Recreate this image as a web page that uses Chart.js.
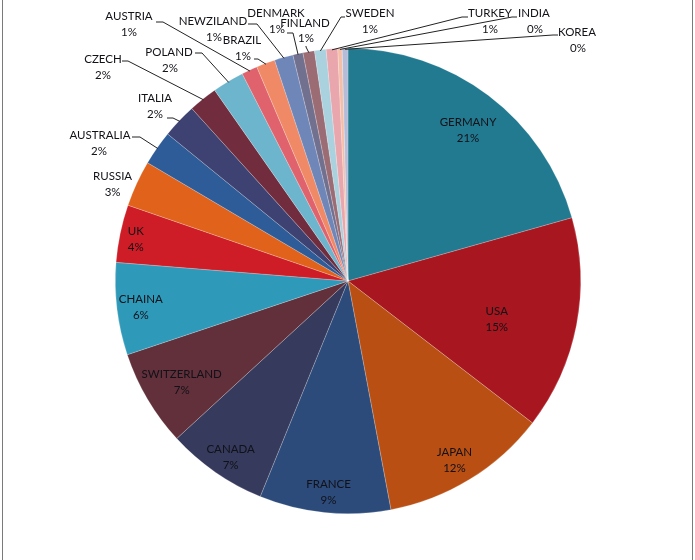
<!DOCTYPE html>
<html>
<head>
<meta charset="utf-8">
<script src="https://cdn.jsdelivr.net/npm/chart.js@4.4.1/dist/chart.umd.min.js"></script>
<style>
  html, body { margin: 0; padding: 0; background: #fff; }
  #wrap { position: relative; width: 695px; height: 560px; }
  .edge { position: absolute; top: 0; width: 1px; height: 560px; background: #7a7a7a; }
</style>
</head>
<body>
<div id="wrap">
  <canvas id="pie" width="695" height="560"></canvas>
  <div class="edge" style="left:2px"></div>
  <div class="edge" style="left:692px"></div>
</div>
<script>
// share of each country (percent), clockwise from 12 o'clock
const countries = ['GERMANY', 'USA', 'JAPAN', 'FRANCE', 'CANADA', 'SWITZERLAND', 'CHAINA', 'UK', 'RUSSIA',
    'AUSTRALIA', 'ITALIA', 'CZECH', 'POLAND', 'AUSTRIA', 'BRAZIL', 'NEWZILAND', 'DENMARK', 'FINLAND',
    'SWEDEN', 'TURKEY', 'INDIA', 'KOREA'];
const shares = [20.6, 14.8, 11.6, 9.1, 7.0, 6.7, 6.4, 4.0, 3.2,
    2.4, 2.4, 2.0, 2.2, 1.1, 1.3, 1.3, 0.7, 0.8,
    0.8, 0.8, 0.3, 0.4];
const sliceColors = ['#227a91', '#a8161f', '#b94f13', '#2c4b7a', '#363a5c', '#62303a', '#2e99b8', '#cf1d27', '#e0621b',
    '#2e5c98', '#3d4272', '#712d3e', '#6cb5cc', '#e0626c', '#f08966', '#6f86b8', '#72708f', '#9c6c74',
    '#a9d1de', '#e9a6ac', '#f4bfa9', '#b4bcd8'];

// labels placed near the slice middle: [fraction of radius, angle nudge in degrees]
const radialLabels = { GERMANY: [0.828, 1.4], USA: [0.66, 3.5], JAPAN: [0.895, 0.8], FRANCE: [0.91, -0.5],
    CANADA: [0.91, -1.1], SWITZERLAND: [0.837, -0.8], CHAINA: [0.897, -0.2], UK: [0.93, -0.6], RUSSIA: [1.094, -2.4] };

// callout labels: name pos, pct pos, leader line start + elbow
const callouts = {
    AUSTRALIA: { name: [100, 135], pct: [99, 151], line: [[132, 137], [140, 137]] },
    ITALIA:    { name: [155, 98],  pct: [155, 114], line: [[167, 118], [173, 118]] },
    CZECH:     { name: [103, 59],  pct: [103, 75],  line: [[122, 61], [128, 61]] },
    POLAND:    { name: [169, 52],  pct: [170, 68],  line: [[195, 53], [202, 53]] },
    AUSTRIA:   { name: [129, 16],  pct: [129, 32],  line: [[156, 22], [163, 22]] },
    BRAZIL:    { name: [242, 40],  pct: [243, 56],  line: [[254, 59], [258, 59]] },
    NEWZILAND: { name: [213, 21],  pct: [214, 37],  line: [[248, 24], [257, 24]] },
    DENMARK:   { name: [276, 13],  pct: [277, 29],  line: [[287, 33], [293, 33]] },
    FINLAND:   { name: [305, 23],  pct: [306, 38],  line: [[306, 46], [306, 47]] },
    SWEDEN:    { name: [370, 13],  pct: [370, 29],  line: [[345, 17], [341, 17]] },
    TURKEY:    { name: [490, 13],  pct: [490, 29],  line: [[468, 17], [462, 17]] },
    INDIA:     { name: [534, 13],  pct: [535, 29],  line: [[517, 17], [512, 17]] },
    KOREA:     { name: [577, 32],  pct: [578, 48],  line: [[558, 35], [553, 35]] }
};

const total = shares.reduce((a, b) => a + b, 0);
const pctText = v => Math.round(v / total * 100) + '%';

const sliceLabels = {
    id: 'sliceLabels',
    afterDatasetsDraw(chart) {
        const ctx = chart.ctx;
        const arcs = chart.getDatasetMeta(0).data;
        ctx.save();
        ctx.font = '11.5px Lato, "Open Sans", sans-serif';
        ctx.textAlign = 'center';
        ctx.textBaseline = 'middle';
        arcs.forEach((arc, i) => {
            const name = countries[i];
            const p = arc.getProps(['x', 'y', 'startAngle', 'endAngle', 'outerRadius'], true);
            const mid = (p.startAngle + p.endAngle) / 2;
            ctx.fillStyle = '#111118';
            if (radialLabels[name]) {
                const [f, nudge] = radialLabels[name];
                const a = mid + nudge * Math.PI / 180;
                const r = p.outerRadius * f;
                const cx = p.x + Math.cos(a) * r;
                const cy = p.y + Math.sin(a) * r;
                ctx.fillText(name, cx, cy - 8);
                ctx.fillText(pctText(shares[i]), cx, cy + 8);
            } else if (callouts[name]) {
                const c = callouts[name];
                ctx.fillText(name, c.name[0], c.name[1]);
                ctx.fillText(pctText(shares[i]), c.pct[0], c.pct[1]);
                const ex = p.x + Math.cos(mid) * (p.outerRadius - 1);
                const ey = p.y + Math.sin(mid) * (p.outerRadius - 1);
                ctx.strokeStyle = '#222';
                ctx.lineWidth = 1;
                ctx.beginPath();
                ctx.moveTo(c.line[0][0], c.line[0][1]);
                ctx.lineTo(c.line[1][0], c.line[1][1]);
                ctx.lineTo(ex, ey);
                ctx.stroke();
            }
        });
        ctx.restore();
    }
};

new Chart(document.getElementById('pie').getContext('2d'), {
    type: 'pie',
    data: {
        labels: countries,
        datasets: [{
            data: shares,
            backgroundColor: sliceColors,
            borderColor: 'rgba(255,255,255,0.35)',
            borderWidth: 0.6
        }]
    },
    options: {
        responsive: false,
        animation: false,
        layout: { padding: { top: 48, bottom: 46, left: 1, right: 0 } },
        plugins: { legend: { display: false }, tooltip: { enabled: false } }
    },
    plugins: [sliceLabels]
});
</script>
</body>
</html>
